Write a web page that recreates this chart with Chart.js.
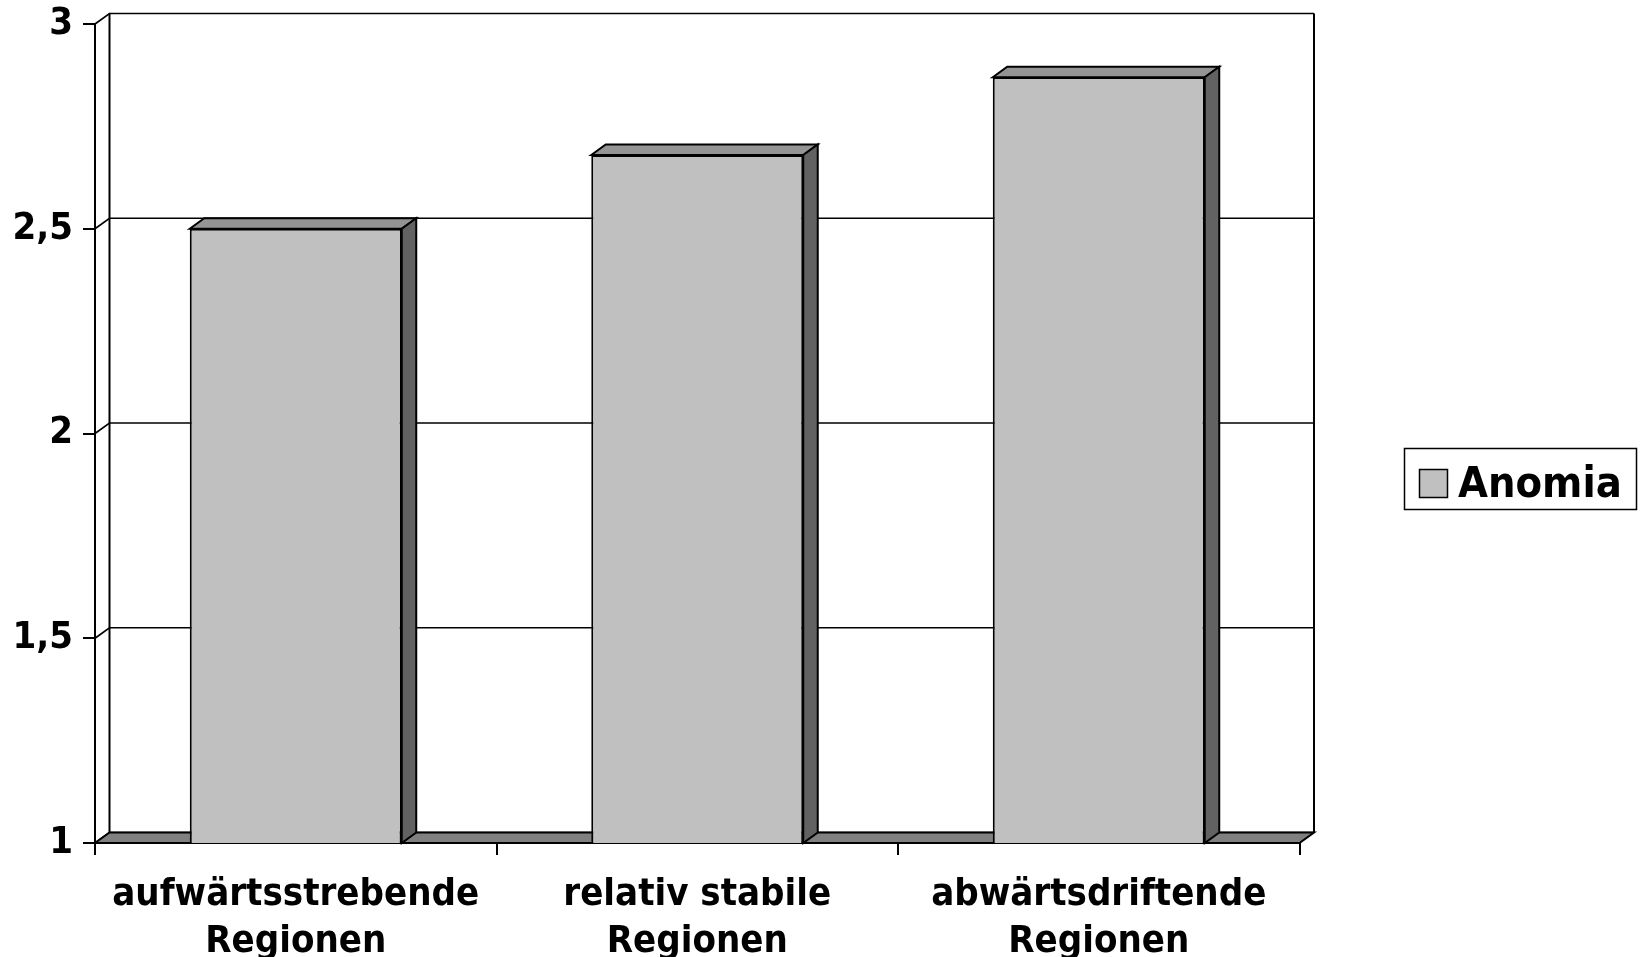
<!DOCTYPE html>
<html>
<head>
<meta charset="utf-8">
<script src="https://cdn.jsdelivr.net/npm/chart.js@4.4.1/dist/chart.umd.min.js"></script>
<style>
  html, body { margin: 0; padding: 0; background: #ffffff; }
  #wrap { width: 1646px; height: 957px; }
</style>
</head>
<body>
<div id="wrap"><canvas id="c" width="1646" height="957"></canvas></div>
<script>
// Anomia by regional development type
const categories = [
  ['aufwärtsstrebende', 'Regionen'],
  ['relativ stabile', 'Regionen'],
  ['abwärtsdriftende', 'Regionen']
];
const seriesName = 'Anomia';
const anomiaValues = [2.50, 2.68, 2.87];
const yTicks = [1, 1.5, 2, 2.5, 3];

const FONT = "'DejaVu Sans Condensed', 'DejaVu Sans', sans-serif";
const DEPTH = { x: 14.5, y: 10.5 };       // oblique offset of the back plane
const COLORS = { front: '#c0c0c0', top: '#949494', side: '#626262', floor: '#808080', line: '#000000' };

function poly(ctx, pts, fill) {
  ctx.beginPath();
  ctx.moveTo(pts[0][0], pts[0][1]);
  for (let i = 1; i < pts.length; i++) ctx.lineTo(pts[i][0], pts[i][1]);
  ctx.closePath();
  if (fill) { ctx.fillStyle = fill; ctx.fill(); }
  ctx.stroke();
}

// Back wall, side-wall diagonals, floor slab and the bars' top/side faces
const depthFrame = {
  id: 'depthFrame',
  beforeDatasetsDraw(chart) {
    const { ctx, chartArea: a, scales: { y } } = chart;
    const dx = DEPTH.x, dy = DEPTH.y;
    ctx.save();
    ctx.strokeStyle = COLORS.line;
    ctx.lineWidth = 1.6;
    ctx.lineJoin = 'miter';
    yTicks.forEach(v => {
      const py = y.getPixelForValue(v);
      ctx.beginPath();
      ctx.moveTo(a.left, py);
      ctx.lineTo(a.left + dx, py - dy);
      ctx.lineTo(a.right + dx, py - dy);
      ctx.stroke();
    });
    ctx.lineWidth = 2;
    ctx.beginPath();
    ctx.moveTo(a.left + dx, a.top - dy);
    ctx.lineTo(a.left + dx, a.bottom - dy);
    ctx.moveTo(a.right + dx, a.top - dy);
    ctx.lineTo(a.right + dx, a.bottom - dy);
    ctx.stroke();
    poly(ctx, [
      [a.left, a.bottom], [a.right, a.bottom],
      [a.right + dx, a.bottom - dy], [a.left + dx, a.bottom - dy]
    ], COLORS.floor);
    ctx.restore();
  },
  afterDatasetsDraw(chart) {
    const { ctx, chartArea: a } = chart;
    const dx = DEPTH.x, dy = DEPTH.y;
    ctx.save();
    ctx.strokeStyle = COLORS.line;
    ctx.lineWidth = 2;
    ctx.lineJoin = 'miter';
    chart.getDatasetMeta(0).data.forEach(bar => {
      const p = bar.getProps(['x', 'y', 'base', 'width'], true);
      const base = Math.min(p.base, a.bottom);
      const l = p.x - p.width / 2, r = p.x + p.width / 2;
      poly(ctx, [[l, p.y], [l + dx, p.y - dy], [r + dx, p.y - dy], [r, p.y]], COLORS.top);
      poly(ctx, [[r, p.y], [r + dx, p.y - dy], [r + dx, base - dy], [r, base]], COLORS.side);
    });
    ctx.restore();
  },
  afterDraw(chart) {
    // legend box on the right
    const { ctx } = chart;
    const ds = chart.data.datasets[0];
    ctx.save();
    ctx.strokeStyle = COLORS.line;
    ctx.lineWidth = 1.5;
    ctx.fillStyle = '#ffffff';
    ctx.fillRect(1404.5, 448.5, 232, 61);
    ctx.strokeRect(1404.5, 448.5, 232, 61);
    ctx.fillStyle = ds.backgroundColor;
    ctx.fillRect(1419.5, 469.5, 28, 28);
    ctx.strokeRect(1419.5, 469.5, 28, 28);
    ctx.fillStyle = '#000000';
    ctx.font = 'bold 43px ' + FONT;
    ctx.textBaseline = 'middle';
    ctx.textAlign = 'left';
    ctx.fillText(ds.label, 1458, 486);
    ctx.restore();
  }
};

const chart = new Chart(document.getElementById('c'), {
  type: 'bar',
  data: {
    labels: categories,
    datasets: [{
      label: seriesName,
      data: anomiaValues,
      backgroundColor: COLORS.front,
      borderColor: COLORS.line,
      borderWidth: 2,
      borderSkipped: false,
      barPercentage: 0.528,
      categoryPercentage: 1.0
    }]
  },
  options: {
    responsive: false,
    animation: false,
    layout: { padding: { top: 24, right: 346.5, left: 0, bottom: 0 } },
    plugins: { legend: { display: false }, tooltip: { enabled: false } },
    scales: {
      x: {
        grid: { offset: true, drawOnChartArea: false, tickLength: 12, color: '#000', lineWidth: 2 },
        border: { display: true, color: '#000', width: 2 },
        ticks: {
          color: '#000', padding: 16, maxRotation: 0, autoSkip: false,
          font: { family: FONT, size: 38, weight: 'bold', lineHeight: 1.25 }
        },
        afterFit(scale) {
          scale.height = 957 - 843;
          scale.paddingLeft = 0; scale.paddingRight = 0;
        }
      },
      y: {
        min: 1, max: 3,
        afterBuildTicks(scale) { scale.ticks = yTicks.map(v => ({ value: v })); },
        grid: { drawOnChartArea: false, tickLength: 12, color: '#000', lineWidth: 2 },
        border: { display: true, color: '#000', width: 2 },
        ticks: {
          color: '#000', padding: 10,
          font: { family: FONT, size: 38, weight: 'bold' },
          callback: v => String(v).replace('.', ',')
        },
        afterFit(scale) {
          scale.width = 95;
          scale.paddingTop = 0; scale.paddingBottom = 0;
        }
      }
    }
  },
  plugins: [depthFrame]
});
</script>
</body>
</html>
